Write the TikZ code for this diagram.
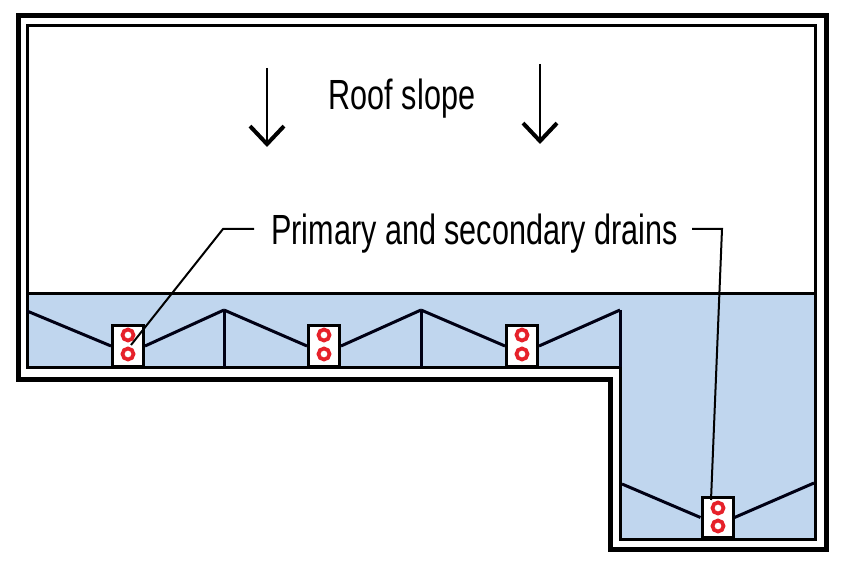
\documentclass[tikz,border=0pt]{standalone}
\usepackage{fontspec}
\setmainfont[FakeStretch=0.725]{Liberation Sans}
\usetikzlibrary{positioning}
\usetikzlibrary{arrows.meta}
\definecolor{roofblue}{HTML}{C0D6EE}
\definecolor{drainred}{HTML}{E6212A}

\begin{document}
\begin{tikzpicture}
[
x=0.2mm,
y=-0.2mm,
parapet-a/.style={draw,line width=1.0mm,line join=miter},
parapet-b/.style={draw,line width=0.6mm,line join=miter},
band-a/.style={fill=roofblue},
crease-a/.style={line width=0.6mm,black!92!blue},
drain-a/.style={rectangle,draw,fill=white,line width=0.6mm,minimum width=6.2mm,minimum height=8.0mm,inner sep=0},
ring-a/.style={circle,draw=drainred,line width=0.75mm,minimum size=2.2mm,inner sep=0},
text-a/.style={font=\fontsize{24pt}{27pt}\selectfont,inner sep=0},
leader-a/.style={line width=0.4mm},
slope-a/.style={line width=0.4mm,-{Straight Barb[length=3.6mm,width=6.8mm,line width=0.8mm]}},
]
\useasboundingbox (0,0) rectangle (843,567);

% walls and blue band
\fill [band-a] (27,294) -- (815,294) -- (815,539) -- (620,539) -- (620,367) -- (27,367) -- cycle;
\draw [parapet-a] (18,16) -- (826,16) -- (826,549) -- (610,549) -- (610,379) -- (18,379) -- cycle;
\draw [parapet-b] (27,26) -- (815,26) -- (815,539) -- (620,539) -- (620,367) -- (27,367) -- cycle;
\draw [parapet-b] (27,294) -- (815,294);

% drains
\node (d1) [drain-a] at (128,346) {};
\node (d2) [drain-a] at (324,346) {};
\node (d3) [drain-a] at (522,346) {};
\node (d4) [drain-a] at (717.5,517.5) {};
\node (r1a) [ring-a] at (128,335) {};
\node (r1b) [ring-a] at (128,354) {};
\node (r2a) [ring-a] at (324,335) {};
\node (r2b) [ring-a] at (324,354) {};
\node (r3a) [ring-a] at (522,335) {};
\node (r3b) [ring-a] at (522,354) {};
\node (r4a) [ring-a] at (718,508) {};
\node (r4b) [ring-a] at (718,526) {};

% ridge points
\coordinate (p0) at (27,311);
\coordinate (p1) at (224,310);
\coordinate (p2) at (421,310);
\coordinate (p3) at (620,310);
\coordinate (p4) at (622,484);
\coordinate (p5) at (814,483);
\coordinate (f1) at (224,367);
\coordinate (f2) at (421,367);
\coordinate (f3) at (620,367);
\draw [crease-a] (p0) -- (d1.west);
\draw [crease-a] (d1.east) -- (p1);
\draw [crease-a] (p1) -- (d2.west);
\draw [crease-a] (d2.east) -- (p2);
\draw [crease-a] (p2) -- (d3.west);
\draw [crease-a] (d3.east) -- (p3);
\draw [crease-a] (p1) -- (f1);
\draw [crease-a] (p2) -- (f2);
\draw [crease-a] (p3) -- (f3);
\draw [crease-a] (p4) -- (d4.west);
\draw [crease-a] (d4.east) -- (p5);

% labels
\node (t1) [text-a] at (402,99) {Roof slope};
\node (t2) [text-a] at (474.5,234) {Primary and secondary drains};

% slope arrows
\coordinate (a1) at (267,68);
\coordinate (b1) at (267,147);
\coordinate (a2) at (540,64);
\coordinate (b2) at (540,144);
\draw [slope-a] (a1) -- (b1);
\draw [slope-a] (a2) -- (b2);

% leaders
\coordinate (l1) at (254,229);
\coordinate (k1) at (223,229);
\coordinate (e1) at (131,345);
\coordinate (l2) at (692,229);
\coordinate (k2) at (722,229);
\coordinate (e2) at (711,500);
\draw [leader-a] (l1) -- (k1) -- (e1);
\draw [leader-a] (l2) -- (k2) -- (e2);
\end{tikzpicture}
\end{document}
